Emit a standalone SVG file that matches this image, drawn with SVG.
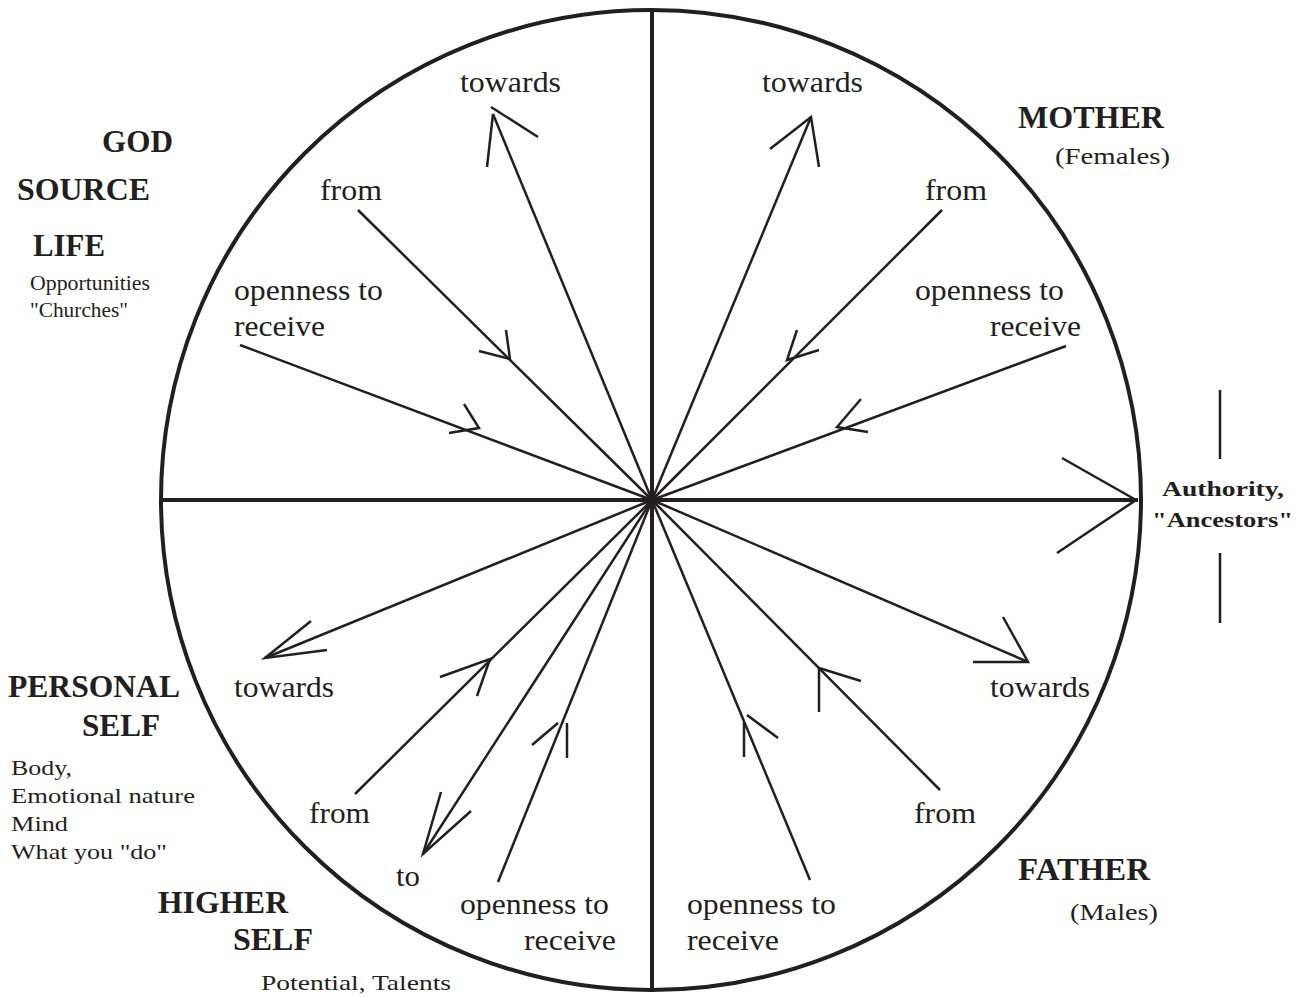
<svg xmlns="http://www.w3.org/2000/svg" width="1311" height="997" viewBox="0 0 1311 997">
<style>
.t{font-family:"Liberation Serif","Times New Roman",serif;font-size:30px;fill:#231f20}
.b{font-family:"Liberation Serif","Times New Roman",serif;font-size:31px;font-weight:bold;fill:#231f20}
.s{font-family:"Liberation Serif","Times New Roman",serif;font-size:21px;fill:#231f20}
.sb{font-family:"Liberation Serif","Times New Roman",serif;font-size:22px;font-weight:bold;fill:#231f20}
.heavy{fill:none;stroke:#231f20;stroke-width:4}
.ln{fill:none;stroke:#231f20;stroke-width:2.5}
</style>
<rect width="1311" height="997" fill="#fff"/>
<g id="wheel">
<circle class="heavy" cx="651" cy="500" r="490"/>
<line class="heavy" x1="652" y1="8" x2="652" y2="992"/>
<line class="heavy" x1="160" y1="500" x2="1138" y2="500"/>
</g>
<g id="connectors">
<!-- upper-left towards -->
<line class="ln" x1="652" y1="500" x2="493" y2="114"/>
<polyline class="ln" points="487,167 493,114"/>
<line class="ln" x1="491" y1="107" x2="538" y2="137"/>
<!-- upper-right towards -->
<line class="ln" x1="652" y1="500" x2="811" y2="117"/>
<polyline class="ln" points="770,149 811,117 819,167"/>
<!-- upper-left from -->
<line class="ln" x1="358" y1="210" x2="652" y2="500"/>
<polyline class="ln" points="506,330 510,359 479,351"/>
<!-- upper-left openness -->
<line class="ln" x1="240" y1="345" x2="652" y2="500"/>
<polyline class="ln" points="464,404 479,428 449,433"/>
<!-- upper-right from -->
<line class="ln" x1="942" y1="210" x2="652" y2="500"/>
<polyline class="ln" points="797,330 787,360 819,350"/>
<!-- upper-right openness -->
<line class="ln" x1="1066" y1="346" x2="652" y2="500"/>
<polyline class="ln" points="861,399 837,427 868,432"/>
<!-- authority -->
<polyline class="ln" points="1062,458 1136,500 1057,553"/>
<line class="ln" x1="1220" y1="390" x2="1220" y2="459"/>
<line class="ln" x1="1220" y1="553" x2="1220" y2="623"/>
<!-- lower-left towards -->
<line class="ln" x1="652" y1="500" x2="265" y2="658"/>
<polyline class="ln" points="311,621 265,658 327,650"/>
<!-- lower-left from -->
<line class="ln" x1="355" y1="794" x2="652" y2="500"/>
<polyline class="ln" points="440,677 490,659 477,696"/>
<!-- to -->
<line class="ln" x1="652" y1="500" x2="423" y2="854"/>
<polyline class="ln" points="441,792 423,854 471,811"/>
<!-- lower-left openness -->
<line class="ln" x1="498" y1="882" x2="652" y2="500"/>
<polyline class="ln" points="532,745 558,723"/>
<line class="ln" x1="567" y1="723" x2="567" y2="758"/>
<!-- lower-right towards -->
<line class="ln" x1="652" y1="500" x2="1028" y2="662"/>
<polyline class="ln" points="1003,617 1028,662 973,662"/>
<!-- lower-right from -->
<line class="ln" x1="940" y1="790" x2="652" y2="500"/>
<polyline class="ln" points="819,712 819,668 861,681"/>
<!-- lower-right openness -->
<line class="ln" x1="810" y1="880" x2="652" y2="500"/>
<line class="ln" x1="744" y1="722" x2="744" y2="757"/>
<line class="ln" x1="747" y1="715" x2="778" y2="738"/>
</g>
<g id="n-ul-towards"><text class="t" x="460" y="92" textLength="101" lengthAdjust="spacingAndGlyphs">towards</text></g>
<g id="n-ur-towards"><text class="t" x="762" y="92" textLength="101" lengthAdjust="spacingAndGlyphs">towards</text></g>
<g id="n-mother">
<text class="b" x="1018" y="128" textLength="146" lengthAdjust="spacingAndGlyphs">MOTHER</text>
<text class="s" x="1055" y="164" font-size="24" style="font-size:24px" textLength="115" lengthAdjust="spacingAndGlyphs">(Females)</text>
</g>
<g id="n-god">
<text class="b" x="102" y="152" textLength="71" lengthAdjust="spacingAndGlyphs">GOD</text>
<text class="b" x="17" y="200" textLength="133" lengthAdjust="spacingAndGlyphs">SOURCE</text>
<text class="b" x="33" y="256" textLength="72" lengthAdjust="spacingAndGlyphs">LIFE</text>
<text class="s" x="30" y="290" textLength="120" lengthAdjust="spacingAndGlyphs">Opportunities</text>
<text class="s" x="30" y="317" textLength="98" lengthAdjust="spacingAndGlyphs">"Churches"</text>
</g>
<g id="n-ul-from"><text class="t" x="320" y="200" textLength="62" lengthAdjust="spacingAndGlyphs">from</text></g>
<g id="n-ur-from"><text class="t" x="925" y="200" textLength="62" lengthAdjust="spacingAndGlyphs">from</text></g>
<g id="n-ul-open">
<text class="t" x="234" y="300" textLength="149" lengthAdjust="spacingAndGlyphs">openness to</text>
<text class="t" x="234" y="336" textLength="91" lengthAdjust="spacingAndGlyphs">receive</text>
</g>
<g id="n-ur-open">
<text class="t" x="915" y="300" textLength="149" lengthAdjust="spacingAndGlyphs">openness to</text>
<text class="t" x="990" y="336" textLength="91" lengthAdjust="spacingAndGlyphs">receive</text>
</g>
<g id="n-authority">
<text class="sb" x="1162" y="496" textLength="122" lengthAdjust="spacingAndGlyphs">Authority,</text>
<text class="sb" x="1152" y="527" textLength="141" lengthAdjust="spacingAndGlyphs">"Ancestors"</text>
</g>
<g id="n-ll-towards"><text class="t" x="234" y="697" textLength="100" lengthAdjust="spacingAndGlyphs">towards</text></g>
<g id="n-lr-towards"><text class="t" x="990" y="697" textLength="100" lengthAdjust="spacingAndGlyphs">towards</text></g>
<g id="n-personal">
<text class="b" x="8" y="697" textLength="172" lengthAdjust="spacingAndGlyphs">PERSONAL</text>
<text class="b" x="82" y="736" textLength="78" lengthAdjust="spacingAndGlyphs">SELF</text>
<text class="s" x="11" y="775" textLength="61" lengthAdjust="spacingAndGlyphs">Body,</text>
<text class="s" x="11" y="803" textLength="184" lengthAdjust="spacingAndGlyphs">Emotional nature</text>
<text class="s" x="11" y="831" textLength="57" lengthAdjust="spacingAndGlyphs">Mind</text>
<text class="s" x="11" y="859" textLength="156" lengthAdjust="spacingAndGlyphs">What you "do"</text>
</g>
<g id="n-ll-from"><text class="t" x="309" y="823" textLength="61" lengthAdjust="spacingAndGlyphs">from</text></g>
<g id="n-to"><text class="t" x="396" y="886" textLength="24" lengthAdjust="spacingAndGlyphs">to</text></g>
<g id="n-higher">
<text class="b" x="158" y="913" textLength="130" lengthAdjust="spacingAndGlyphs">HIGHER</text>
<text class="b" x="233" y="950" textLength="80" lengthAdjust="spacingAndGlyphs">SELF</text>
<text class="s" x="261" y="990" textLength="190" lengthAdjust="spacingAndGlyphs">Potential,  Talents</text>
</g>
<g id="n-ll-open">
<text class="t" x="460" y="914" textLength="149" lengthAdjust="spacingAndGlyphs">openness to</text>
<text class="t" x="524" y="950" textLength="92" lengthAdjust="spacingAndGlyphs">receive</text>
</g>
<g id="n-lr-open">
<text class="t" x="687" y="914" textLength="149" lengthAdjust="spacingAndGlyphs">openness to</text>
<text class="t" x="687" y="950" textLength="92" lengthAdjust="spacingAndGlyphs">receive</text>
</g>
<g id="n-lr-from"><text class="t" x="914" y="823" textLength="62" lengthAdjust="spacingAndGlyphs">from</text></g>
<g id="n-father">
<text class="b" x="1018" y="880" textLength="132" lengthAdjust="spacingAndGlyphs">FATHER</text>
<text class="s" x="1070" y="920" style="font-size:24px" textLength="88" lengthAdjust="spacingAndGlyphs">(Males)</text>
</g>
</svg>
